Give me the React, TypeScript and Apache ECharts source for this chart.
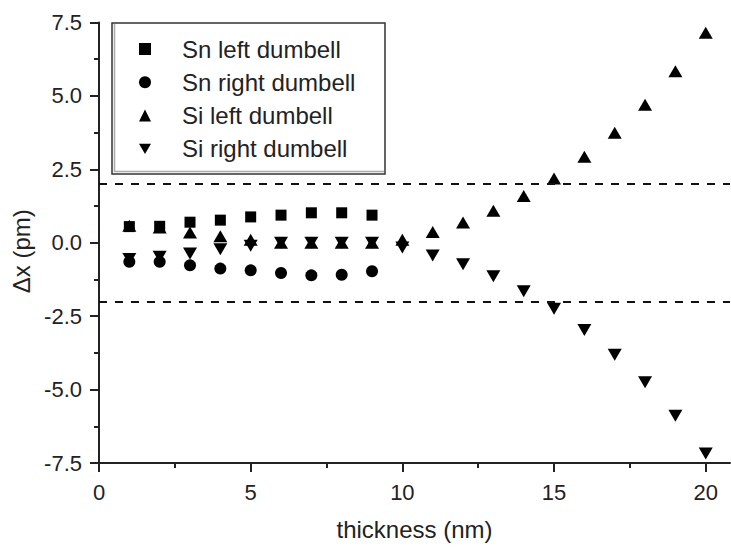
import React, { useEffect, useRef } from "react";
import * as echarts from "echarts";

// ---- data ----
const snThickness = [1, 2, 3, 4, 5, 6, 7, 8, 9];
const snLeft = [0.55, 0.56, 0.7, 0.77, 0.88, 0.94, 1.02, 1.02, 0.94];
const snRight = [-0.65, -0.65, -0.77, -0.88, -0.94, -1.03, -1.11, -1.09, -0.97];

const siThickness = [1, 2, 3, 4, 5, 6, 7, 8, 9, 10, 11, 12, 13, 14, 15, 16, 17, 18, 19, 20];
const siLeft = [0.58, 0.52, 0.35, 0.22, 0.1, 0.0, 0.0, 0.0, 0.0, 0.1, 0.37, 0.69, 1.09, 1.59, 2.19, 2.93, 3.75, 4.7, 5.84, 7.15];
const siRight = [-0.55, -0.48, -0.37, -0.22, -0.1, 0.0, 0.0, 0.0, 0.0, -0.16, -0.43, -0.73, -1.14, -1.65, -2.25, -2.97, -3.81, -4.75, -5.89, -7.18];

const seriesNames = ["Sn left dumbell", "Sn right dumbell", "Si left dumbell", "Si right dumbell"];
const dashedLevels = [2, -2];

const xMajorTicks = [0, 5, 10, 15, 20];
const xMinorTicks = [2.5, 7.5, 12.5, 17.5];

const FONT = "'Liberation Sans', Arial, Helvetica, sans-serif";
const INK = "#222";

const zip = (xs: number[], ys: number[]) => xs.map((x, i) => [x, ys[i]]);
const DOWN_TRIANGLE = "path://M0,0L20,0L10,17Z";

export default function App() {
  const ref = useRef<HTMLDivElement>(null);

  useEffect(() => {
    const chart = echarts.init(ref.current!, null, { renderer: "svg" });
    const option: any = {
      animation: false,
      backgroundColor: "#fff",
      textStyle: { fontFamily: FONT, color: INK },
      grid: { left: 99, right: 1, top: 22.5, bottom: 86, containLabel: false },
      xAxis: [
        {
          type: "value",
          min: 0,
          max: 20.8,
          interval: 5,
          name: "thickness (nm)",
          nameLocation: "middle",
          nameGap: 54,
          nameTextStyle: { fontSize: 24, color: INK, fontFamily: FONT },
          axisLine: { show: true, onZero: false, lineStyle: { color: INK, width: 2 } },
          axisTick: { show: true, inside: false, length: 9, customValues: xMajorTicks, lineStyle: { color: INK, width: 2 } },
          axisLabel: { show: true, margin: 18, fontSize: 22, color: INK, fontFamily: FONT, customValues: xMajorTicks },
          splitLine: { show: false },
        },
        {
          type: "value",
          min: 0,
          max: 20.8,
          position: "bottom",
          axisLine: { show: false, onZero: false },
          axisTick: { show: true, inside: false, length: 5, customValues: xMinorTicks, lineStyle: { color: INK, width: 2 } },
          axisLabel: { show: false },
          splitLine: { show: false },
        },
      ],
      yAxis: {
        type: "value",
        min: -7.5,
        max: 7.5,
        interval: 2.5,
        name: "\u0394x (pm)",
        nameLocation: "middle",
        nameGap: 64,
        nameRotate: 90,
        nameTextStyle: { fontSize: 24, color: INK, fontFamily: FONT, padding: [0, 17, 0, 0] },
        axisLine: { show: true, onZero: false, lineStyle: { color: INK, width: 2 } },
        axisTick: { show: true, inside: false, length: 9, lineStyle: { color: INK, width: 2 } },
        minorTick: { show: true, splitNumber: 2, length: 5, lineStyle: { color: INK, width: 2 } },
        axisLabel: {
          margin: 17,
          fontSize: 22,
          color: INK,
          fontFamily: FONT,
          formatter: (v: number) => v.toFixed(1),
        },
        splitLine: { show: false },
      },
      legend: {
        orient: "vertical",
        left: 139,
        top: 37,
        padding: 0,
        itemWidth: 12,
        itemHeight: 12,
        itemGap: 9.3,
        data: seriesNames,
        textStyle: { fontSize: 24, color: INK, fontFamily: FONT, lineHeight: 24, padding: [0, 0, 0, 26] },
        selectedMode: false,
      },
      graphic: [
        {
          type: "rect",
          shape: { x: 112, y: 23, width: 273, height: 151 },
          style: { fill: "none", stroke: "#333", lineWidth: 1.5 },
          silent: true,
          z: 1,
        },
        {
          type: "polyline",
          shape: { points: [[114.5, 24], [114.5, 171.5], [384, 171.5]] },
          style: { fill: "none", stroke: "#aaa", lineWidth: 1.5 },
          silent: true,
          z: 1,
        },
      ],
      series: [
        {
          name: seriesNames[0],
          type: "scatter",
          symbol: "rect",
          symbolSize: 11,
          itemStyle: { color: "#000", opacity: 1 },
          data: zip(snThickness, snLeft),
          markLine: {
            silent: true,
            symbol: "none",
            label: { show: false },
            lineStyle: { type: [8, 8], color: "#111", width: 2 },
            data: dashedLevels.map((v) => ({ yAxis: v })),
          },
        },
        {
          name: seriesNames[1],
          type: "scatter",
          symbol: "circle",
          symbolSize: 12,
          itemStyle: { color: "#000", opacity: 1 },
          data: zip(snThickness, snRight),
        },
        {
          name: seriesNames[2],
          type: "scatter",
          symbol: "triangle",
          symbolSize: [14, 12],
          itemStyle: { color: "#000", opacity: 1 },
          data: zip(siThickness, siLeft),
        },
        {
          name: seriesNames[3],
          type: "scatter",
          symbol: DOWN_TRIANGLE,
          symbolSize: [14, 12],
          itemStyle: { color: "#000", opacity: 1 },
          data: zip(siThickness, siRight),
        },
      ],
    };
    chart.setOption(option);
    return () => chart.dispose();
  }, []);

  return (
    <div
      ref={ref}
      style={{ position: "absolute", left: 0, top: 0, width: 731, height: 549, background: "#fff" }}
    />
  );
}
